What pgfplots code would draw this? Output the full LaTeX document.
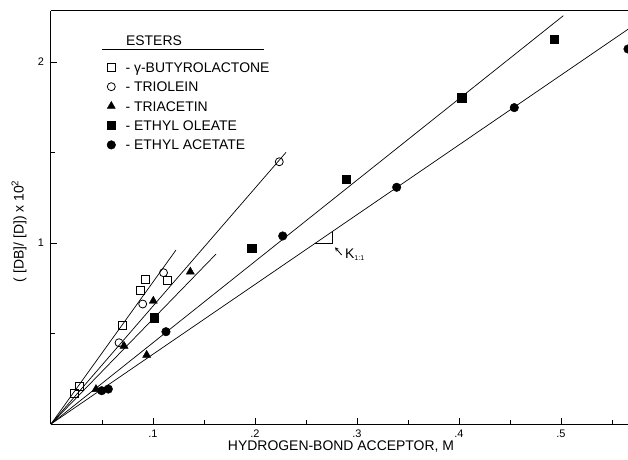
\documentclass[border=0pt]{standalone}
\usepackage{pgfplots}
\pgfplotsset{compat=1.18}
\usepackage{fontspec}
\setmainfont{Liberation Sans}
\begin{document}
\begin{tikzpicture}
\useasboundingbox (-51bp,-36bp) rectangle (577bp,424bp);
\begin{axis}[
  at={(0,0)}, anchor=south west,
  scale only axis, width=577bp, height=413bp,
  xmin=0, xmax=0.5657, ymin=0, ymax=2.282,
  axis x line*=box, axis y line*=left,
  xtick pos=left, ytick pos=left, tick align=inside,
  xtick={0.1,0.2,0.3,0.4,0.5}, xticklabels={.1,.2,.3,.4,.5},
  minor xtick={0.05,0.15,0.25,0.35,0.45,0.55},
  ytick={1,2}, yticklabels={1,2}, minor ytick={0.5,1.5},
  major tick length=6bp, minor tick length=4bp,
  tick style={black, line width=0.8bp},
  axis line style={black, line width=1bp},
  /pgf/number format/assume math mode=true,
  x tick label style={font=\fontsize{11}{13}\selectfont, anchor=center, yshift=-10bp},
  y tick label style={font=\fontsize{11}{13}\selectfont, anchor=center, xshift=-10bp},
  clip mode=individual,
  legend style={draw=none, fill=none, at={(axis description cs:0,1)}, anchor=north west,
    xshift=56bp, yshift=-51.3bp, inner sep=0pt, outer sep=0pt,
    font=\fontsize{14}{16}\selectfont, row sep=9.4bp, column sep=10bp,
    nodes={inner sep=0pt, text height=10bp, text depth=0bp}},
  legend cell align=left,
  legend image code/.code={\draw[#1] plot coordinates {(0bp,0bp)};},
]
% fitted lines
\addplot[forget plot, black, line width=0.7bp] coordinates {(0,0) (0.1225,0.961)};
\addplot[forget plot, black, line width=0.7bp] coordinates {(0,0) (0.2304,1.501)};
\addplot[forget plot, black, line width=0.7bp] coordinates {(0,0) (0.1618,0.939)};
\addplot[forget plot, black, line width=0.7bp] coordinates {(0,0) (0.5023,2.256)};
\addplot[forget plot, black, line width=0.7bp] coordinates {(0,0) (0.5657,2.181)};
% data
\addplot[only marks, mark=square, mark size=4bp, mark options={black, fill=white, line width=0.8bp}]
  coordinates {(0.0228,0.170) (0.0277,0.210) (0.0696,0.543) (0.0873,0.740) (0.0925,0.799) (0.1142,0.793)};
\addlegendentry{- γ-BUTYROLACTONE}
\addplot[only marks, mark=o, mark size=4bp, mark options={black, fill=white, line width=0.8bp}]
  coordinates {(0.0667,0.449) (0.0899,0.663) (0.1103,0.836) (0.2238,1.449)};
\addlegendentry{- TRIOLEIN}
\addplot[only marks, mark=triangle*, mark size=4.7bp, mark options={black, fill=black}]
  coordinates {(0.0441,0.192) (0.0716,0.431) (0.0938,0.381) (0.1003,0.680) (0.1366,0.841)};
\addlegendentry{- TRIACETIN}
\addplot[only marks, mark=square*, mark size=4.1bp, mark options={black, fill=black}]
  coordinates {(0.1010,0.587) (0.1968,0.971) (0.2892,1.354) (0.4026,1.803) (0.4931,2.125)};
\addlegendentry{- ETHYL OLEATE}
\addplot[only marks, mark=*, mark size=4.3bp, mark options={black, fill=black}]
  coordinates {(0.0497,0.184) (0.0562,0.193) (0.1127,0.510) (0.2272,1.039) (0.3389,1.308) (0.4542,1.748) (0.5657,2.072)};
\addlegendentry{- ETHYL ACETATE}
% K(1:1) slope triangle
\addplot[forget plot, black, line width=0.9bp] coordinates {(0.2588,0.9977) (0.2762,0.9977) (0.2762,1.0648)};
\draw[-stealth, line width=0.8bp] (axis cs:0.2850,0.9337) -- (axis cs:0.2784,0.9762);
\node[anchor=west, inner sep=0pt, font=\fontsize{14}{16}\selectfont] at (axis cs:0.2882,0.9337) {K\textsubscript{\fontsize{7}{8}\selectfont 1:1}};
% legend title
\node[inner sep=0pt, font=\fontsize{14}{16}\selectfont] at (axis cs:0.101,2.119) {ESTERS};
\draw[line width=0.8bp] (axis cs:0.0497,2.072) -- (axis cs:0.2088,2.072);
% axis labels
\node[rotate=90, inner sep=0pt, font=\fontsize{14}{16}\selectfont] at (axis description cs:-0.0555,0.467) {( [DB]/ [D]) x 10\textsuperscript{2}};
\node[inner sep=0pt, font=\fontsize{14}{16}\selectfont] at (axis description cs:0.5026,-0.0557) {HYDROGEN-BOND ACCEPTOR, M};
\end{axis}
\end{tikzpicture}
\end{document}
